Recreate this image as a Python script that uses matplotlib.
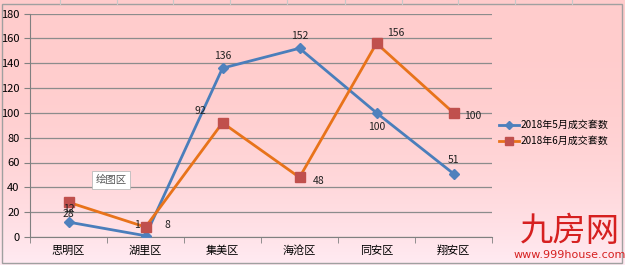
import matplotlib.pyplot as plt
import numpy as np

plt.rcParams['font.family'] = ['Noto Sans CJK SC', 'DejaVu Sans']

districts = ['思明区', '湖里区', '集美区', '海沧区', '同安区', '翔安区']
may_label = '2018年5月成交套数'
jun_label = '2018年6月成交套数'
may_vals = [12, 1, 136, 152, 100, 51]
jun_vals = [28, 8, 92, 48, 156, 100]
yticks = [0, 20, 40, 60, 80, 100, 120, 140, 160, 180]

# 标签偏移 (像素): 5月在上方, 同安区在下方
may_offsets = [(0, 6), (-6, 4), (0, 5), (0, 5), (0, -14), (0, 6)]
jun_offsets = [(0, -12), (16, -2), (-16, 5), (14, -6), (14, 4), (14, -6)]

fig = plt.figure(figsize=(6.25, 2.65), dpi=100)

# 背景渐变
bg = fig.add_axes([0, 0, 1, 1], zorder=-10)
grad = np.linspace(0, 1, 256).reshape(-1, 1)
top = np.array([1.0, 0.80, 0.80])
bottom = np.array([1.0, 0.92, 0.95])
img = top + (bottom - top) * grad[..., None] ** 2.5
bg.imshow(img, aspect='auto', extent=[0, 1, 0, 1], origin='upper')
bg.set_xlim(0, 1)
bg.set_ylim(0, 1)
bg.axis('off')
# 表格线和边框
for xp in [60, 117, 173, 230, 287, 345, 402, 458, 515, 572]:
    bg.plot([xp / 625, xp / 625], [1 - 4 / 265, 1], color='#c8c8c8', lw=0.8)
bg.add_patch(plt.Rectangle((2 / 625, 2 / 265), 620 / 625, 259 / 265,
                           fill=False, ec='#a0a0a0', lw=1))

ax = fig.add_axes([30 / 625, 1 - 237 / 265, 462 / 625, 223.5 / 265])
ax.patch.set_alpha(0)
x = np.arange(len(districts))
ax.plot(x, may_vals, color='#4A7EBB', lw=2, marker='D', ms=5,
        mfc='#4F81BD', mec='#4F81BD', label=may_label, zorder=3)
ax.plot(x, jun_vals, color='#E8731A', lw=2, marker='s', ms=7,
        mfc='#C0504D', mec='#C0504D', label=jun_label, zorder=3)

for i, v in enumerate(may_vals):
    ax.annotate(str(v), (x[i], v), xytext=may_offsets[i], textcoords='offset points',
                ha='center', va='bottom', fontsize=7.5, color='#222222')
for i, v in enumerate(jun_vals):
    ax.annotate(str(v), (x[i], v), xytext=jun_offsets[i], textcoords='offset points',
                ha='center', va='bottom', fontsize=7.5, color='#222222')

ax.set_xlim(-0.5, len(districts) - 0.5)
ax.set_ylim(0, 180)
ax.set_yticks(yticks)
ax.set_xticks(x)
ax.set_xticklabels(districts)
ax.set_xticks(np.arange(-0.5, len(districts), 1), minor=True)
ax.tick_params(axis='x', which='major', length=0, labelsize=8, pad=6)
ax.tick_params(axis='x', which='minor', length=4, color='#808080', direction='out')
ax.tick_params(axis='y', length=4, color='#808080', labelsize=8, direction='out')
ax.grid(axis='y', color='#8c8c8c', lw=0.9)
ax.set_axisbelow(True)
for s in ['top', 'right']:
    ax.spines[s].set_visible(False)
for s in ['left', 'bottom']:
    ax.spines[s].set_color('#808080')

ax.legend(loc='center left', bbox_to_anchor=(1.015, 0.465), frameon=False,
          fontsize=7.2, handlelength=2.0, handletextpad=0.2, labelspacing=0.6,
          borderpad=0, borderaxespad=0, markerscale=0.8)

# "绘图区" 提示框
ax.text(0.55, 46, '绘图区', fontsize=7.5, color='#555555', ha='center', va='center',
        bbox=dict(boxstyle='square,pad=0.35', fc='white', ec='#bbbbbb', lw=0.6))

# 水印
fig.text(570 / 625, 1 - 232 / 265, '九房网', fontsize=24, color='#d62020',
         ha='center', va='center')
fig.text(570 / 625, 1 - 255 / 265, 'www.999house.com', fontsize=8, color='#d62020',
         ha='center', va='center', family='DejaVu Sans')

fig.savefig('out.png', dpi=100)
